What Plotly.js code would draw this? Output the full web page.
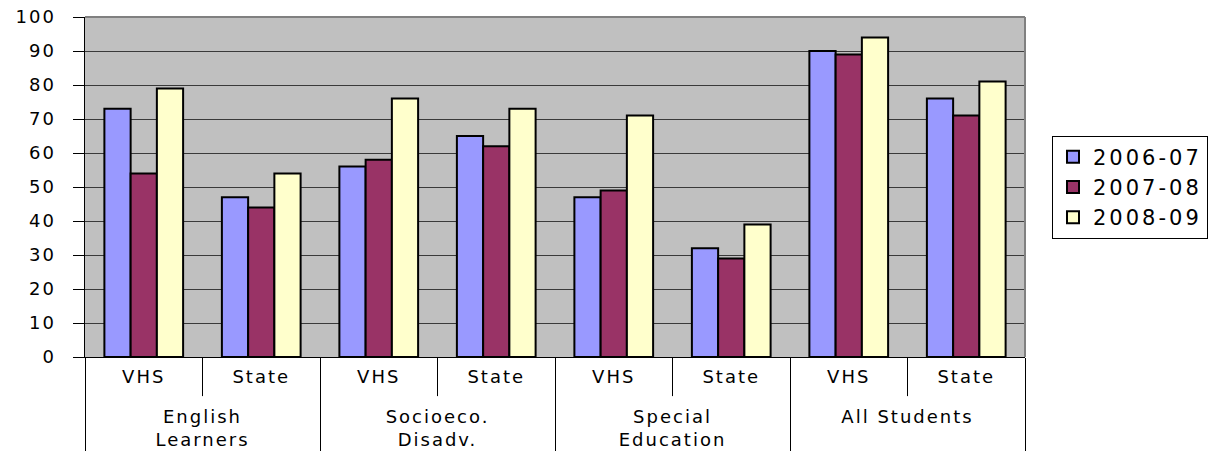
<!DOCTYPE html>
<html><head><meta charset="utf-8">
<script src="https://cdn.plot.ly/plotly-3.0.1.min.js"></script>
<style>html,body{margin:0;padding:0;background:#fff}#c{width:1214px;height:453px}
text{letter-spacing:2px} .legendtext{letter-spacing:3px}</style>
</head><body><div id="c"></div>
<script>
const groups = ["English<br>Learners","English<br>Learners","Socioeco.<br>Disadv.","Socioeco.<br>Disadv.","Special<br>Education","Special<br>Education","All Students","All Students"];
const subs = ["VHS","State","VHS","State","VHS","State","VHS","State"];
const seriesNames = ["2006-07","2007-08","2008-09"];
const v2006 = [73,47,56,65,47,32,90,76];
const v2007 = [54,44,58,62,49,29,89,71];
const v2008 = [79,54,76,73,71,39,94,81];
const colors = ["#9999FF","#993366","#FFFFCC"];
const vals = [v2006,v2007,v2008];
const font = "DejaVu Sans, Arial, sans-serif";
const subLabels = subs.map(s => s + "<br><span style='font-size:4px'> </span>");
const traces = vals.map((v,i)=>({
  type:"bar", name:seriesNames[i], x:[groups,subLabels], y:v,
  marker:{color:colors[i], line:{color:"#000", width:2}}
}));
const shapes = [];
for (let i=0;i<subs.length;i+=2){
  shapes.push({type:"line", xref:"x", yref:"paper", x0:i+0.5, x1:i+0.5, y0:0, y1:-0.115, line:{color:"#000",width:1}});
}
const layout = {
  width:1214, height:453,
  margin:{l:85, r:189, t:17, b:96, autoexpand:false},
  paper_bgcolor:"#fff", plot_bgcolor:"#C0C0C0",
  barmode:"group", bargap:0.33, bargroupgap:0,
  font:{family:font, size:18, color:"#000"},
  xaxis:{type:"multicategory", showline:true, linecolor:"#000", linewidth:1,
    showdividers:true, dividercolor:"#000", dividerwidth:1,
    tickfont:{family:font,size:18,color:"#000"}, ticks:"", ticklabelstandoff:3},
  yaxis:{range:[0,100], dtick:10, tickfont:{family:font,size:18,color:"#000"},
    showgrid:true, gridcolor:"#3a3a3a", gridwidth:1, showline:true, linecolor:"#000",
    ticks:"outside", ticklen:11, tickcolor:"#000", zeroline:false,
    ticksuffix:"<span style='color:rgba(0,0,0,0)'>0</span>"},
  shapes: shapes.concat([
    {type:"line", xref:"paper", yref:"paper", x0:0, x1:1, y0:1, y1:1, line:{color:"#808080",width:2}},
    {type:"line", xref:"paper", yref:"paper", x0:1, x1:1, y0:0, y1:1, line:{color:"#808080",width:2}}
  ]),
  legend:{xref:"container", x:1052/1214, xanchor:"left", y:0.5, yanchor:"middle", bgcolor:"#fff",
    bordercolor:"#000", borderwidth:1, font:{family:font,size:21,color:"#000"},
    itemwidth:30, tracegroupgap:0},
  showlegend:true
};
Plotly.newPlot("c", traces, layout, {displayModeBar:false, staticPlot:true});
</script></body></html>
